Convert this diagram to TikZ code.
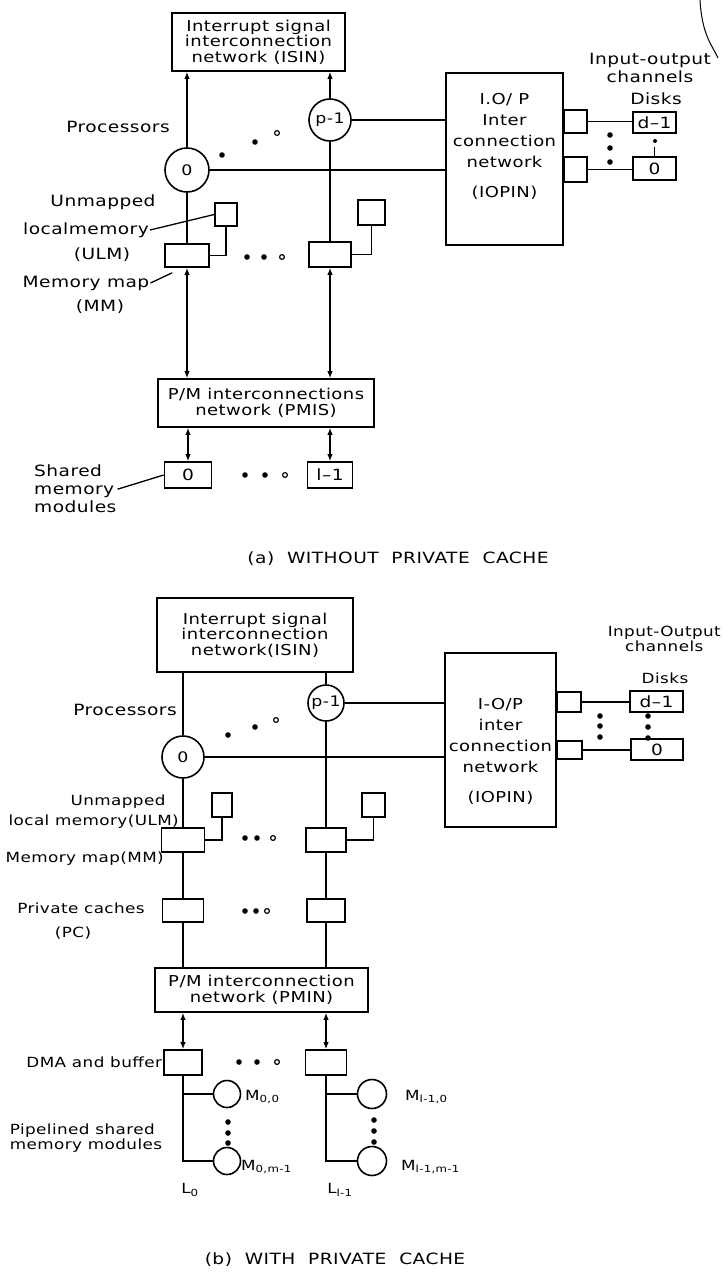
\documentclass[tikz,border=0pt]{standalone}
\usepackage{fontspec}
\setmainfont{DejaVu Sans}[FakeStretch=1.2,LetterSpace=3]
\usetikzlibrary{arrows.meta, calc}

\begin{document}
\begin{tikzpicture}[
  x=1pt, y=-1pt,
  box/.style={draw, line width=1.6pt, inner sep=0pt},
  proc/.style={draw, circle, line width=1.6pt, inner sep=0pt, font=\fontsize{14.5}{15}\selectfont},
  lbl/.style={inner sep=1pt, font=\fontsize{15.5}{18}\selectfont},
  lblsm/.style={inner sep=1pt, font=\fontsize{14}{14.5}\selectfont},
  boxtxt/.style={align=center, font=\fontsize{15}{15.5}\selectfont},
  link/.style={line width=1.6pt},
  arrow/.style={link, -{Latex[length=7pt,width=5.5pt]}},
  twoway/.style={link, {Latex[length=7pt,width=5.5pt]}-{Latex[length=7pt,width=5.5pt]}},
  leader/.style={line width=1.3pt}
]
\useasboundingbox (0,0) rectangle (726,1277);

\node[box, boxtxt, minimum width=173pt, minimum height=58pt] (isinA) at (258.5,42) {Interrupt signal\\interconnection\\network (ISIN)};
\node[proc, minimum size=44pt] (p0A) at (187,170) {0};
\node[proc, minimum size=42pt] (ppA) at (330,120) {p-1};
\node[box, minimum width=117pt, minimum height=172pt] (iopinA) at (504.5,159) {};
\node[boxtxt, font=\fontsize{15}{21}\selectfont] (iopintxtA) at (504.5,146) {I.O/ P\\Inter\\connection\\network\\[9pt](IOPIN)};
\node[box, anchor=west, minimum width=23pt, minimum height=23pt] (chA1) at (563,121.5) {};
\node[box, anchor=west, minimum width=23pt, minimum height=25pt] (chA0) at (563,169.5) {};
\node[box, lbl, minimum width=43pt, minimum height=21pt] (dkA1) at (654.5,122.5) {d--1};
\node[box, lbl, minimum width=43pt, minimum height=23pt] (dkA0) at (654.5,168.5) {0};
\node[box, minimum width=22pt, minimum height=23pt] (ulmA0) at (226,214.5) {};
\node[box, minimum width=44pt, minimum height=23pt] (mmA0) at (187,255.5) {};
\node[box, minimum width=27pt, minimum height=25pt] (ulmA1) at (371.5,212.5) {};
\node[box, minimum width=42pt, minimum height=25pt] (mmA1) at (330,254.5) {};
\node[box, boxtxt, minimum width=216pt, minimum height=48pt] (pmis) at (266,403) {P/M interconnections\\network (PMIS)};
\node[box, lbl, minimum width=47pt, minimum height=26pt] (smA0) at (188,475) {0};
\node[box, lbl, minimum width=45pt, minimum height=26pt] (smA1) at (330,475) {l--1};

\node[lbl] (proctxtA) at (118,127) {Processors};
\node[lbl] (ulmtxtA) at (103,202) {Unmapped};
\node[lbl] (ulmtxtA2) at (86,230) {localmemory};
\node[lbl] (ulmtxtA3) at (102,255) {(ULM)};
\node[lbl] (mmtxtA) at (86,283) {Memory map};
\node[lbl] (mmtxtA2) at (100,307) {(MM)};
\node[lbl, align=left, anchor=north west] (smtxtA) at (33,464) {Shared\\memory\\modules};
\node[lbl, align=center] (iotxtA) at (650,68) {Input-output\\channels};
\node[lbl] (dktxtA) at (656,99) {Disks};
\node[lbl] (capA) at (398,559) {(a)\ \ WITHOUT\ \ PRIVATE\ \ CACHE};

\draw[arrow] (p0A) -- (isinA.south -| p0A);
\draw[arrow] (ppA) -- (isinA.south -| ppA);
\draw[link] (p0A) -- (mmA0);
\draw[link] (ppA) -- (mmA1);
\draw[link] (p0A) -- (p0A -| iopinA.west);
\draw[link] (ppA) -- (ppA -| iopinA.west);
\draw[link] (ulmA0) |- (mmA0);
\draw[link] (ulmA1) |- (mmA1);
\draw[twoway] (mmA0) -- (pmis.north -| mmA0);
\draw[twoway] (mmA1) -- (pmis.north -| mmA1);
\draw[twoway] (pmis.south -| smA0) -- (smA0);
\draw[twoway] (pmis.south -| smA1) -- (smA1);
\draw[link] (chA1.east) -- (chA1.east -| dkA1.west);
\draw[link] (chA0.east) -- (chA0.east -| dkA0.west);
\draw[link] (dkA0.north) -- ++(0,-9);
\fill (655,141) circle (2pt);
\draw[leader] (ulmtxtA2.east) -- (ulmA0.west);
\draw[leader] (mmtxtA.east) -- ([shift={(8pt,-5pt)}]mmA0.south west);
\draw[leader] (smtxtA.east) -- (smA0.west);
\foreach \x/\y in {222/155, 255/142, 247/257, 264/257, 245/475, 265/475, 610/135, 610/148, 610/162}
  \fill (\x,\y) circle (2.8pt);
\foreach \x/\y in {277/133, 282/257, 285/475}
  \draw[line width=1.2pt] (\x,\y) circle (2.4pt);
\draw[line width=1pt] (700,0) .. controls (702,35) and (712,45) .. (718,58);

\node[box, boxtxt, minimum width=196pt, minimum height=74pt] (isinB) at (255,635) {Interrupt signal\\interconnection\\network(ISIN)};
\node[proc, minimum size=42pt] (p0B) at (183,757) {0};
\node[proc, minimum size=36pt] (ppB) at (326,703) {p-1};
\node[box, minimum width=111pt, minimum height=174pt] (iopinB) at (500.5,740) {};
\node[boxtxt, font=\fontsize{15}{21}\selectfont] (iopintxtB) at (500.5,751) {I-O/P\\inter\\connection\\network\\[9pt](IOPIN)};
\node[box, anchor=west, minimum width=24pt, minimum height=20pt] (chB1) at (556,702) {};
\node[box, anchor=west, minimum width=25pt, minimum height=18pt] (chB0) at (556,750) {};
\node[box, lbl, minimum width=53pt, minimum height=21pt] (dkB1) at (656.5,701.5) {d--1};
\node[box, lbl, minimum width=52pt, minimum height=21pt] (dkB0) at (657,749.5) {0};
\node[box, minimum width=20pt, minimum height=24pt] (ulmB0) at (222,805) {};
\node[box, minimum width=43pt, minimum height=24pt] (mmB0) at (183,840) {};
\node[box, minimum width=23pt, minimum height=24pt] (ulmB1) at (373.5,805) {};
\node[box, minimum width=40pt, minimum height=24pt] (mmB1) at (326,840) {};
\node[box, minimum width=41pt, minimum height=23pt] (pcB0) at (183,910.5) {};
\node[box, minimum width=38pt, minimum height=23pt] (pcB1) at (326,910.5) {};
\node[box, boxtxt, minimum width=213pt, minimum height=44pt] (pmin) at (261.5,990) {P/M interconnection\\network (PMIN)};
\node[box, minimum width=38pt, minimum height=25pt] (dmaB0) at (183,1062.5) {};
\node[box, minimum width=41pt, minimum height=25pt] (dmaB1) at (326,1062.5) {};
\node[proc, minimum size=27pt] (mB00) at (227,1094) {};
\node[proc, minimum size=27pt] (mB0m) at (227,1161) {};
\node[proc, minimum size=29pt] (mB10) at (372,1094) {};
\node[proc, minimum size=29pt] (mB1m) at (372,1161) {};

\node[lbl] (proctxtB) at (125,710) {Processors};
\node[lblsm] (ulmtxtB) at (118,802) {Unmapped};
\node[lblsm, anchor=east] (ulmtxtB2) at (180,822) {local memory(ULM)};
\node[lblsm, anchor=east] (mmtxtB) at (165,859) {Memory map(MM)};
\node[lblsm] (pctxtB) at (81,908) {Private caches};
\node[lblsm] (pctxtB2) at (73,933) {(PC)};
\node[lblsm, anchor=east] (dmatxtB) at (dmaB0.west) {DMA and buffer};
\node[lblsm, align=left] (pipetxtB) at (86,1138) {Pipelined shared\\memory modules};
\node[lblsm, align=center, anchor=east] (iotxtB) at (722,639) {Input-Output\\channels};
\node[lblsm] (dktxtB) at (665,678) {Disks};
\node[lblsm, anchor=west] (m00txt) at (244,1097) {M\textsubscript{0,0}};
\node[lblsm, anchor=west] (m0mtxt) at (240,1167) {M\textsubscript{0,m-1}};
\node[lblsm, anchor=west] (m10txt) at (404,1097) {M\textsubscript{l-1,0}};
\node[lblsm, anchor=west] (m1mtxt) at (400,1167) {M\textsubscript{l-1,m-1}};
\node[lblsm] (l0txt) at (190,1190) {L\textsubscript{0}};
\node[lblsm] (l1txt) at (340,1190) {L\textsubscript{l-1}};
\node[lbl] (capB) at (335,1260) {(b)\ \ WITH\ \ PRIVATE\ \ CACHE};

\draw[link] (p0B) -- (isinB.south -| p0B);
\draw[link] (ppB) -- (isinB.south -| ppB);
\draw[link] (p0B) -- (p0B -| iopinB.west);
\draw[link] (ppB) -- (ppB -| iopinB.west);
\draw[link] (p0B) -- (mmB0);
\draw[link] (ppB) -- (mmB1);
\draw[link] (ulmB0) |- (mmB0);
\draw[link] (ulmB1) |- (mmB1);
\draw[link] (mmB0) -- (pcB0);
\draw[link] (mmB1) -- (pcB1);
\draw[link] (pcB0) -- (pmin.north -| pcB0);
\draw[link] (pcB1) -- (pmin.north -| pcB1);
\draw[twoway] (pmin.south -| dmaB0) -- (dmaB0);
\draw[twoway] (pmin.south -| dmaB1) -- (dmaB1);
\draw[link] (dmaB0) |- (mB0m);
\draw[link] (dmaB0 |- mB00) -- (mB00);
\draw[link] (dmaB1) |- (mB1m);
\draw[link] (dmaB1 |- mB10) -- (mB10);
\draw[link] (chB1.east) -- (chB1.east -| dkB1.west);
\draw[link] (chB0.east) -- (chB0.east -| dkB0.west);
\foreach \x/\y in {228/735, 255/727, 245/838, 257/838, 245/911, 256/911, 239/1062, 257/1062,
                   600/716, 600/726, 600/737, 648/716, 648/727, 648/738,
                   228/1122, 228/1133, 228/1143, 374/1120, 374/1131, 374/1142}
  \fill (\x,\y) circle (2.8pt);
\foreach \x/\y in {276/720, 273/838, 267/911, 277/1062}
  \draw[line width=1.2pt] (\x,\y) circle (2.4pt);
\end{tikzpicture}
\end{document}
